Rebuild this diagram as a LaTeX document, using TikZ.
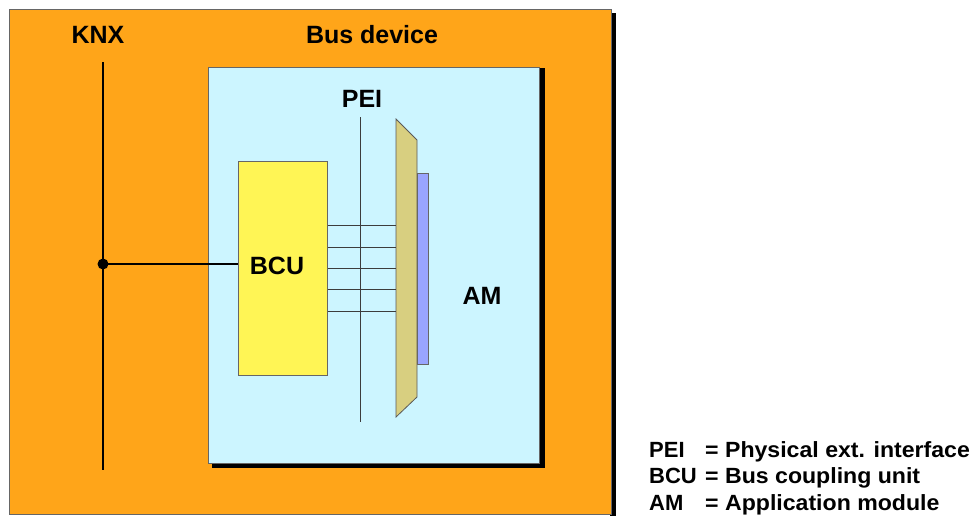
\documentclass[tikz,border=0pt]{standalone}
\usepackage{fontspec}
\setmainfont{Liberation Sans}
\newfontfamily\legendfont[FakeStretch=1.05]{Liberation Sans}
\definecolor{orangebg}{RGB}{255,165,25}
\definecolor{lightbluebg}{RGB}{204,245,255}
\definecolor{bcuyellow}{RGB}{255,245,85}
\definecolor{tan}{RGB}{216,207,128}
\definecolor{barblue}{RGB}{153,165,255}
\definecolor{wiregray}{RGB}{60,60,60}
\tikzset{
  lbl/.style={font=\bfseries\fontsize{25}{29}\selectfont, inner sep=0pt},
  legkey/.style={font=\bfseries\fontsize{22}{26}\selectfont, inner sep=0pt, anchor=base west},
  legend/.style={font=\legendfont\bfseries\fontsize{22}{26}\selectfont, inner sep=0pt, anchor=base west},
  wire/.style={draw=wiregray, line width=1pt},
  box/.style={draw=gray!80!black, line width=0.8pt, anchor=north west, inner sep=0pt},
}
\begin{document}
\begin{tikzpicture}[x=1pt,y=-1pt]
\useasboundingbox (0,0) rectangle (973,515);
% outer bus device box with shadow
\fill[black] (610,13) rectangle (616,520);
\node[box, fill=orangebg, minimum width=602pt, minimum height=505pt] (dev) at (9,9) {};
% inner box shadow
\fill[black] (212,68) rectangle (545,468);
\node[box, fill=lightbluebg, minimum width=331pt, minimum height=396pt] (am) at (208,67) {};
% labels
\node[lbl] (knxlbl) at (98,35) {KNX};
\node[lbl] (devlbl) at (372,35) {Bus device};
\node[lbl] (peilbl) at (362,99) {PEI};
\node[lbl] (amlbl) at (482,296) {AM};
% BCU
\node[box, fill=bcuyellow, minimum width=89pt, minimum height=214pt] (bcu) at (238,161) {};
\node[lbl] (bculbl) at (277,266) {BCU};
% PEI line
\coordinate (peitop) at (360,117);
\coordinate (peibot) at (360,422);
\draw[wire] (peitop) -- (peibot);
% trapezoid connector
\draw[draw=gray!70!black, line width=0.8pt, fill=tan] (396,119) -- (417,140) -- (417,397) -- (396,417) -- cycle;
\coordinate (trapL) at (396,268);
% blue bar
\node[box, fill=barblue, minimum width=11pt, minimum height=191pt] (bar) at (417,173) {};
% wires BCU -> connector
\foreach \yy in {225,247,268,289,311}
  \draw[wire] (bcu.east |- 0,\yy) -- (trapL |- 0,\yy);
% KNX bus line
\coordinate (knxtop) at (103,62);
\coordinate (knxbot) at (103,470);
\draw[line width=2.8pt] (knxtop) -- (knxbot);
\node[circle, fill=black, inner sep=0pt, minimum size=11pt] (tap) at (103,264) {};
\draw[line width=2.8pt] (tap.center) -- (bcu.west |- tap.center);
% legend
\node[legkey] (l1a) at (649,457) {PEI};
\node[legend] (l1b) at (705,457) {= Physical ext. interface};
\node[legkey] (l2a) at (649,483) {BCU};
\node[legend] (l2b) at (705,483) {= Bus coupling unit};
\node[legkey] (l3a) at (649,510) {AM};
\node[legend] (l3b) at (705,510) {= Application module};
\end{tikzpicture}
\end{document}
